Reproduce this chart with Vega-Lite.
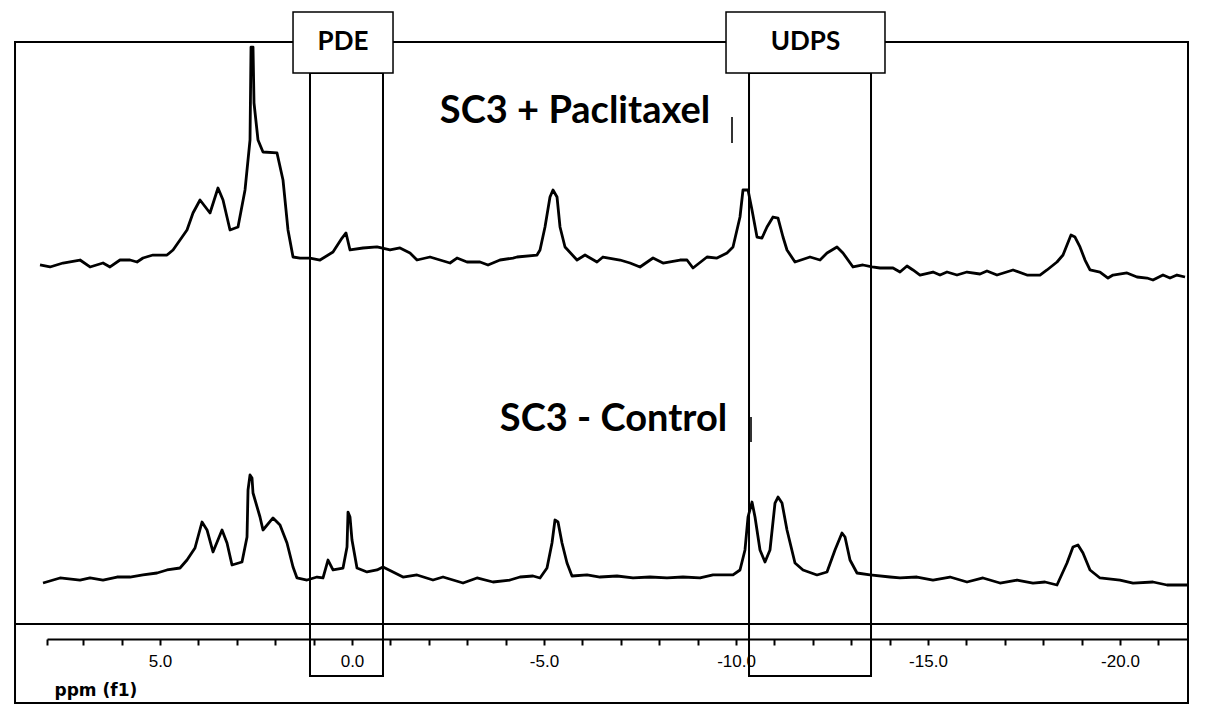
{
  "$schema": "https://vega.github.io/schema/vega-lite/v6.json",
  "width": 1141,
  "height": 639,
  "autosize": {"type": "none"},
  "padding": {"left": 47, "right": 17, "top": 0, "bottom": 80},
  "background": "white",
  "config": {"view": {"stroke": null}},
  "datasets": {
    "spectra": [
      {"sample": "SC3 + Paclitaxel", "ppm": 8.125, "v": 58.53},
      {"sample": "SC3 + Paclitaxel", "ppm": 7.865, "v": 58.22},
      {"sample": "SC3 + Paclitaxel", "ppm": 7.526, "v": 58.84},
      {"sample": "SC3 + Paclitaxel", "ppm": 7.083, "v": 59.31},
      {"sample": "SC3 + Paclitaxel", "ppm": 6.823, "v": 58.22},
      {"sample": "SC3 + Paclitaxel", "ppm": 6.484, "v": 58.84},
      {"sample": "SC3 + Paclitaxel", "ppm": 6.302, "v": 58.22},
      {"sample": "SC3 + Paclitaxel", "ppm": 6.042, "v": 59.31},
      {"sample": "SC3 + Paclitaxel", "ppm": 5.781, "v": 59.31},
      {"sample": "SC3 + Paclitaxel", "ppm": 5.599, "v": 59.0},
      {"sample": "SC3 + Paclitaxel", "ppm": 5.443, "v": 59.62},
      {"sample": "SC3 + Paclitaxel", "ppm": 5.182, "v": 60.09},
      {"sample": "SC3 + Paclitaxel", "ppm": 4.818, "v": 60.09},
      {"sample": "SC3 + Paclitaxel", "ppm": 4.661, "v": 60.88},
      {"sample": "SC3 + Paclitaxel", "ppm": 4.479, "v": 62.44},
      {"sample": "SC3 + Paclitaxel", "ppm": 4.297, "v": 64.01},
      {"sample": "SC3 + Paclitaxel", "ppm": 4.141, "v": 66.67},
      {"sample": "SC3 + Paclitaxel", "ppm": 3.958, "v": 68.7},
      {"sample": "SC3 + Paclitaxel", "ppm": 3.698, "v": 66.67},
      {"sample": "SC3 + Paclitaxel", "ppm": 3.49, "v": 70.58},
      {"sample": "SC3 + Paclitaxel", "ppm": 3.359, "v": 68.7},
      {"sample": "SC3 + Paclitaxel", "ppm": 3.177, "v": 64.01},
      {"sample": "SC3 + Paclitaxel", "ppm": 2.969, "v": 64.48},
      {"sample": "SC3 + Paclitaxel", "ppm": 2.786, "v": 70.27},
      {"sample": "SC3 + Paclitaxel", "ppm": 2.656, "v": 78.09},
      {"sample": "SC3 + Paclitaxel", "ppm": 2.63, "v": 92.64},
      {"sample": "SC3 + Paclitaxel", "ppm": 2.578, "v": 92.64},
      {"sample": "SC3 + Paclitaxel", "ppm": 2.552, "v": 83.88},
      {"sample": "SC3 + Paclitaxel", "ppm": 2.448, "v": 78.09},
      {"sample": "SC3 + Paclitaxel", "ppm": 2.318, "v": 76.21},
      {"sample": "SC3 + Paclitaxel", "ppm": 1.953, "v": 76.06},
      {"sample": "SC3 + Paclitaxel", "ppm": 1.797, "v": 71.83},
      {"sample": "SC3 + Paclitaxel", "ppm": 1.667, "v": 64.01},
      {"sample": "SC3 + Paclitaxel", "ppm": 1.536, "v": 59.78},
      {"sample": "SC3 + Paclitaxel", "ppm": 1.354, "v": 59.62},
      {"sample": "SC3 + Paclitaxel", "ppm": 1.094, "v": 59.62},
      {"sample": "SC3 + Paclitaxel", "ppm": 0.833, "v": 59.31},
      {"sample": "SC3 + Paclitaxel", "ppm": 0.495, "v": 60.56},
      {"sample": "SC3 + Paclitaxel", "ppm": 0.26, "v": 62.75},
      {"sample": "SC3 + Paclitaxel", "ppm": 0.156, "v": 63.54},
      {"sample": "SC3 + Paclitaxel", "ppm": 0.052, "v": 60.88},
      {"sample": "SC3 + Paclitaxel", "ppm": -0.286, "v": 61.19},
      {"sample": "SC3 + Paclitaxel", "ppm": -0.651, "v": 61.35},
      {"sample": "SC3 + Paclitaxel", "ppm": -0.99, "v": 60.88},
      {"sample": "SC3 + Paclitaxel", "ppm": -1.25, "v": 61.19},
      {"sample": "SC3 + Paclitaxel", "ppm": -1.51, "v": 60.41},
      {"sample": "SC3 + Paclitaxel", "ppm": -1.693, "v": 59.31},
      {"sample": "SC3 + Paclitaxel", "ppm": -2.031, "v": 59.78},
      {"sample": "SC3 + Paclitaxel", "ppm": -2.292, "v": 59.31},
      {"sample": "SC3 + Paclitaxel", "ppm": -2.552, "v": 58.84},
      {"sample": "SC3 + Paclitaxel", "ppm": -2.734, "v": 59.62},
      {"sample": "SC3 + Paclitaxel", "ppm": -2.995, "v": 59.0},
      {"sample": "SC3 + Paclitaxel", "ppm": -3.333, "v": 59.0},
      {"sample": "SC3 + Paclitaxel", "ppm": -3.542, "v": 58.53},
      {"sample": "SC3 + Paclitaxel", "ppm": -3.854, "v": 59.31},
      {"sample": "SC3 + Paclitaxel", "ppm": -4.193, "v": 59.62},
      {"sample": "SC3 + Paclitaxel", "ppm": -4.297, "v": 59.78},
      {"sample": "SC3 + Paclitaxel", "ppm": -4.818, "v": 60.09},
      {"sample": "SC3 + Paclitaxel", "ppm": -4.896, "v": 60.88},
      {"sample": "SC3 + Paclitaxel", "ppm": -5.026, "v": 64.48},
      {"sample": "SC3 + Paclitaxel", "ppm": -5.156, "v": 69.17},
      {"sample": "SC3 + Paclitaxel", "ppm": -5.234, "v": 70.27},
      {"sample": "SC3 + Paclitaxel", "ppm": -5.339, "v": 69.17},
      {"sample": "SC3 + Paclitaxel", "ppm": -5.417, "v": 64.48},
      {"sample": "SC3 + Paclitaxel", "ppm": -5.547, "v": 61.35},
      {"sample": "SC3 + Paclitaxel", "ppm": -5.859, "v": 59.31},
      {"sample": "SC3 + Paclitaxel", "ppm": -6.068, "v": 60.09},
      {"sample": "SC3 + Paclitaxel", "ppm": -6.38, "v": 59.0},
      {"sample": "SC3 + Paclitaxel", "ppm": -6.536, "v": 59.78},
      {"sample": "SC3 + Paclitaxel", "ppm": -6.979, "v": 59.31},
      {"sample": "SC3 + Paclitaxel", "ppm": -7.24, "v": 58.84},
      {"sample": "SC3 + Paclitaxel", "ppm": -7.5, "v": 58.22},
      {"sample": "SC3 + Paclitaxel", "ppm": -7.839, "v": 59.62},
      {"sample": "SC3 + Paclitaxel", "ppm": -8.099, "v": 58.84},
      {"sample": "SC3 + Paclitaxel", "ppm": -8.542, "v": 59.31},
      {"sample": "SC3 + Paclitaxel", "ppm": -8.724, "v": 59.31},
      {"sample": "SC3 + Paclitaxel", "ppm": -8.88, "v": 58.06},
      {"sample": "SC3 + Paclitaxel", "ppm": -9.245, "v": 59.78},
      {"sample": "SC3 + Paclitaxel", "ppm": -9.505, "v": 59.62},
      {"sample": "SC3 + Paclitaxel", "ppm": -9.766, "v": 60.41},
      {"sample": "SC3 + Paclitaxel", "ppm": -9.922, "v": 61.35},
      {"sample": "SC3 + Paclitaxel", "ppm": -10.104, "v": 66.04},
      {"sample": "SC3 + Paclitaxel", "ppm": -10.182, "v": 70.27},
      {"sample": "SC3 + Paclitaxel", "ppm": -10.313, "v": 70.27},
      {"sample": "SC3 + Paclitaxel", "ppm": -10.417, "v": 67.14},
      {"sample": "SC3 + Paclitaxel", "ppm": -10.547, "v": 62.91},
      {"sample": "SC3 + Paclitaxel", "ppm": -10.677, "v": 62.75},
      {"sample": "SC3 + Paclitaxel", "ppm": -10.807, "v": 64.48},
      {"sample": "SC3 + Paclitaxel", "ppm": -10.964, "v": 66.04},
      {"sample": "SC3 + Paclitaxel", "ppm": -11.094, "v": 65.88},
      {"sample": "SC3 + Paclitaxel", "ppm": -11.224, "v": 62.91},
      {"sample": "SC3 + Paclitaxel", "ppm": -11.328, "v": 60.88},
      {"sample": "SC3 + Paclitaxel", "ppm": -11.536, "v": 59.0},
      {"sample": "SC3 + Paclitaxel", "ppm": -11.927, "v": 59.78},
      {"sample": "SC3 + Paclitaxel", "ppm": -12.188, "v": 59.31},
      {"sample": "SC3 + Paclitaxel", "ppm": -12.37, "v": 60.41},
      {"sample": "SC3 + Paclitaxel", "ppm": -12.63, "v": 61.35},
      {"sample": "SC3 + Paclitaxel", "ppm": -12.786, "v": 60.41},
      {"sample": "SC3 + Paclitaxel", "ppm": -13.047, "v": 58.22},
      {"sample": "SC3 + Paclitaxel", "ppm": -13.307, "v": 58.53},
      {"sample": "SC3 + Paclitaxel", "ppm": -13.542, "v": 58.22},
      {"sample": "SC3 + Paclitaxel", "ppm": -13.75, "v": 58.06},
      {"sample": "SC3 + Paclitaxel", "ppm": -14.089, "v": 58.06},
      {"sample": "SC3 + Paclitaxel", "ppm": -14.271, "v": 57.43},
      {"sample": "SC3 + Paclitaxel", "ppm": -14.453, "v": 58.37},
      {"sample": "SC3 + Paclitaxel", "ppm": -14.609, "v": 57.75},
      {"sample": "SC3 + Paclitaxel", "ppm": -14.792, "v": 56.96},
      {"sample": "SC3 + Paclitaxel", "ppm": -15.13, "v": 57.43},
      {"sample": "SC3 + Paclitaxel", "ppm": -15.313, "v": 56.96},
      {"sample": "SC3 + Paclitaxel", "ppm": -15.495, "v": 57.43},
      {"sample": "SC3 + Paclitaxel", "ppm": -15.755, "v": 56.96},
      {"sample": "SC3 + Paclitaxel", "ppm": -16.016, "v": 57.43},
      {"sample": "SC3 + Paclitaxel", "ppm": -16.354, "v": 57.12},
      {"sample": "SC3 + Paclitaxel", "ppm": -16.536, "v": 57.59},
      {"sample": "SC3 + Paclitaxel", "ppm": -16.797, "v": 56.96},
      {"sample": "SC3 + Paclitaxel", "ppm": -17.214, "v": 57.75},
      {"sample": "SC3 + Paclitaxel", "ppm": -17.578, "v": 56.96},
      {"sample": "SC3 + Paclitaxel", "ppm": -17.917, "v": 56.96},
      {"sample": "SC3 + Paclitaxel", "ppm": -18.099, "v": 57.75},
      {"sample": "SC3 + Paclitaxel", "ppm": -18.359, "v": 59.0},
      {"sample": "SC3 + Paclitaxel", "ppm": -18.516, "v": 60.09},
      {"sample": "SC3 + Paclitaxel", "ppm": -18.62, "v": 61.66},
      {"sample": "SC3 + Paclitaxel", "ppm": -18.724, "v": 63.22},
      {"sample": "SC3 + Paclitaxel", "ppm": -18.828, "v": 62.91},
      {"sample": "SC3 + Paclitaxel", "ppm": -18.958, "v": 61.35},
      {"sample": "SC3 + Paclitaxel", "ppm": -19.089, "v": 59.31},
      {"sample": "SC3 + Paclitaxel", "ppm": -19.219, "v": 57.75},
      {"sample": "SC3 + Paclitaxel", "ppm": -19.479, "v": 57.43},
      {"sample": "SC3 + Paclitaxel", "ppm": -19.688, "v": 56.49},
      {"sample": "SC3 + Paclitaxel", "ppm": -19.818, "v": 56.96},
      {"sample": "SC3 + Paclitaxel", "ppm": -20.182, "v": 57.28},
      {"sample": "SC3 + Paclitaxel", "ppm": -20.443, "v": 56.65},
      {"sample": "SC3 + Paclitaxel", "ppm": -20.703, "v": 56.49},
      {"sample": "SC3 + Paclitaxel", "ppm": -20.859, "v": 56.18},
      {"sample": "SC3 + Paclitaxel", "ppm": -21.12, "v": 56.96},
      {"sample": "SC3 + Paclitaxel", "ppm": -21.302, "v": 56.49},
      {"sample": "SC3 + Paclitaxel", "ppm": -21.484, "v": 56.96},
      {"sample": "SC3 + Paclitaxel", "ppm": -21.693, "v": 56.65},

      {"sample": "SC3 - Control", "ppm": 8.047, "v": 8.76},
      {"sample": "SC3 - Control", "ppm": 7.604, "v": 9.55},
      {"sample": "SC3 - Control", "ppm": 7.083, "v": 9.23},
      {"sample": "SC3 - Control", "ppm": 6.823, "v": 9.55},
      {"sample": "SC3 - Control", "ppm": 6.484, "v": 9.23},
      {"sample": "SC3 - Control", "ppm": 6.12, "v": 9.7},
      {"sample": "SC3 - Control", "ppm": 5.781, "v": 9.7},
      {"sample": "SC3 - Control", "ppm": 5.443, "v": 10.02},
      {"sample": "SC3 - Control", "ppm": 5.078, "v": 10.33},
      {"sample": "SC3 - Control", "ppm": 4.818, "v": 10.8},
      {"sample": "SC3 - Control", "ppm": 4.479, "v": 11.11},
      {"sample": "SC3 - Control", "ppm": 4.297, "v": 12.36},
      {"sample": "SC3 - Control", "ppm": 4.089, "v": 14.24},
      {"sample": "SC3 - Control", "ppm": 3.906, "v": 18.31},
      {"sample": "SC3 - Control", "ppm": 3.776, "v": 17.06},
      {"sample": "SC3 - Control", "ppm": 3.62, "v": 13.62},
      {"sample": "SC3 - Control", "ppm": 3.385, "v": 17.06},
      {"sample": "SC3 - Control", "ppm": 3.255, "v": 15.02},
      {"sample": "SC3 - Control", "ppm": 3.125, "v": 11.58},
      {"sample": "SC3 - Control", "ppm": 2.865, "v": 12.05},
      {"sample": "SC3 - Control", "ppm": 2.734, "v": 15.96},
      {"sample": "SC3 - Control", "ppm": 2.708, "v": 23.32},
      {"sample": "SC3 - Control", "ppm": 2.656, "v": 25.67},
      {"sample": "SC3 - Control", "ppm": 2.604, "v": 25.2},
      {"sample": "SC3 - Control", "ppm": 2.578, "v": 22.85},
      {"sample": "SC3 - Control", "ppm": 2.396, "v": 19.09},
      {"sample": "SC3 - Control", "ppm": 2.318, "v": 17.06},
      {"sample": "SC3 - Control", "ppm": 2.057, "v": 18.94},
      {"sample": "SC3 - Control", "ppm": 1.875, "v": 17.84},
      {"sample": "SC3 - Control", "ppm": 1.693, "v": 15.02},
      {"sample": "SC3 - Control", "ppm": 1.536, "v": 11.27},
      {"sample": "SC3 - Control", "ppm": 1.432, "v": 9.55},
      {"sample": "SC3 - Control", "ppm": 1.172, "v": 9.23},
      {"sample": "SC3 - Control", "ppm": 0.911, "v": 9.7},
      {"sample": "SC3 - Control", "ppm": 0.755, "v": 9.55},
      {"sample": "SC3 - Control", "ppm": 0.625, "v": 12.36},
      {"sample": "SC3 - Control", "ppm": 0.495, "v": 10.8},
      {"sample": "SC3 - Control", "ppm": 0.234, "v": 11.11},
      {"sample": "SC3 - Control", "ppm": 0.13, "v": 14.4},
      {"sample": "SC3 - Control", "ppm": 0.104, "v": 19.87},
      {"sample": "SC3 - Control", "ppm": 0.052, "v": 19.09},
      {"sample": "SC3 - Control", "ppm": 0.0, "v": 15.49},
      {"sample": "SC3 - Control", "ppm": -0.13, "v": 11.11},
      {"sample": "SC3 - Control", "ppm": -0.391, "v": 10.49},
      {"sample": "SC3 - Control", "ppm": -0.651, "v": 10.8},
      {"sample": "SC3 - Control", "ppm": -0.807, "v": 11.27},
      {"sample": "SC3 - Control", "ppm": -1.068, "v": 10.49},
      {"sample": "SC3 - Control", "ppm": -1.328, "v": 9.7},
      {"sample": "SC3 - Control", "ppm": -1.693, "v": 10.02},
      {"sample": "SC3 - Control", "ppm": -2.109, "v": 9.23},
      {"sample": "SC3 - Control", "ppm": -2.37, "v": 9.7},
      {"sample": "SC3 - Control", "ppm": -2.891, "v": 8.76},
      {"sample": "SC3 - Control", "ppm": -3.255, "v": 9.55},
      {"sample": "SC3 - Control", "ppm": -3.672, "v": 8.92},
      {"sample": "SC3 - Control", "ppm": -4.115, "v": 9.23},
      {"sample": "SC3 - Control", "ppm": -4.375, "v": 9.7},
      {"sample": "SC3 - Control", "ppm": -4.714, "v": 9.86},
      {"sample": "SC3 - Control", "ppm": -4.896, "v": 9.55},
      {"sample": "SC3 - Control", "ppm": -5.078, "v": 11.11},
      {"sample": "SC3 - Control", "ppm": -5.208, "v": 15.02},
      {"sample": "SC3 - Control", "ppm": -5.286, "v": 18.62},
      {"sample": "SC3 - Control", "ppm": -5.365, "v": 18.31},
      {"sample": "SC3 - Control", "ppm": -5.469, "v": 15.02},
      {"sample": "SC3 - Control", "ppm": -5.599, "v": 11.89},
      {"sample": "SC3 - Control", "ppm": -5.729, "v": 9.86},
      {"sample": "SC3 - Control", "ppm": -6.12, "v": 10.02},
      {"sample": "SC3 - Control", "ppm": -6.458, "v": 9.7},
      {"sample": "SC3 - Control", "ppm": -6.901, "v": 9.86},
      {"sample": "SC3 - Control", "ppm": -7.318, "v": 9.55},
      {"sample": "SC3 - Control", "ppm": -7.76, "v": 9.7},
      {"sample": "SC3 - Control", "ppm": -8.203, "v": 9.55},
      {"sample": "SC3 - Control", "ppm": -8.62, "v": 9.7},
      {"sample": "SC3 - Control", "ppm": -9.063, "v": 9.55},
      {"sample": "SC3 - Control", "ppm": -9.401, "v": 10.02},
      {"sample": "SC3 - Control", "ppm": -9.922, "v": 10.02},
      {"sample": "SC3 - Control", "ppm": -10.104, "v": 10.8},
      {"sample": "SC3 - Control", "ppm": -10.234, "v": 13.93},
      {"sample": "SC3 - Control", "ppm": -10.313, "v": 19.09},
      {"sample": "SC3 - Control", "ppm": -10.417, "v": 21.44},
      {"sample": "SC3 - Control", "ppm": -10.495, "v": 19.09},
      {"sample": "SC3 - Control", "ppm": -10.625, "v": 13.93},
      {"sample": "SC3 - Control", "ppm": -10.755, "v": 12.05},
      {"sample": "SC3 - Control", "ppm": -10.885, "v": 13.93},
      {"sample": "SC3 - Control", "ppm": -11.016, "v": 21.28},
      {"sample": "SC3 - Control", "ppm": -11.094, "v": 22.22},
      {"sample": "SC3 - Control", "ppm": -11.198, "v": 21.28},
      {"sample": "SC3 - Control", "ppm": -11.328, "v": 17.06},
      {"sample": "SC3 - Control", "ppm": -11.536, "v": 11.89},
      {"sample": "SC3 - Control", "ppm": -11.745, "v": 10.8},
      {"sample": "SC3 - Control", "ppm": -12.109, "v": 10.02},
      {"sample": "SC3 - Control", "ppm": -12.37, "v": 10.49},
      {"sample": "SC3 - Control", "ppm": -12.578, "v": 13.93},
      {"sample": "SC3 - Control", "ppm": -12.76, "v": 16.59},
      {"sample": "SC3 - Control", "ppm": -12.839, "v": 15.96},
      {"sample": "SC3 - Control", "ppm": -12.969, "v": 12.36},
      {"sample": "SC3 - Control", "ppm": -13.151, "v": 10.33},
      {"sample": "SC3 - Control", "ppm": -13.49, "v": 10.02},
      {"sample": "SC3 - Control", "ppm": -14.01, "v": 9.7},
      {"sample": "SC3 - Control", "ppm": -14.271, "v": 9.55},
      {"sample": "SC3 - Control", "ppm": -14.714, "v": 9.7},
      {"sample": "SC3 - Control", "ppm": -15.13, "v": 9.23},
      {"sample": "SC3 - Control", "ppm": -15.573, "v": 9.7},
      {"sample": "SC3 - Control", "ppm": -16.016, "v": 8.92},
      {"sample": "SC3 - Control", "ppm": -16.432, "v": 9.55},
      {"sample": "SC3 - Control", "ppm": -16.875, "v": 8.76},
      {"sample": "SC3 - Control", "ppm": -17.318, "v": 9.23},
      {"sample": "SC3 - Control", "ppm": -17.734, "v": 8.76},
      {"sample": "SC3 - Control", "ppm": -18.047, "v": 8.92},
      {"sample": "SC3 - Control", "ppm": -18.359, "v": 8.45},
      {"sample": "SC3 - Control", "ppm": -18.62, "v": 11.89},
      {"sample": "SC3 - Control", "ppm": -18.776, "v": 14.4},
      {"sample": "SC3 - Control", "ppm": -18.906, "v": 14.71},
      {"sample": "SC3 - Control", "ppm": -19.036, "v": 13.46},
      {"sample": "SC3 - Control", "ppm": -19.219, "v": 10.8},
      {"sample": "SC3 - Control", "ppm": -19.479, "v": 9.55},
      {"sample": "SC3 - Control", "ppm": -20.0, "v": 9.23},
      {"sample": "SC3 - Control", "ppm": -20.339, "v": 8.76},
      {"sample": "SC3 - Control", "ppm": -20.859, "v": 8.92},
      {"sample": "SC3 - Control", "ppm": -21.224, "v": 8.45},
      {"sample": "SC3 - Control", "ppm": -21.745, "v": 8.45}
    ],
    "frames": [
      {"name": "frame", "ppm": 8.776, "ppm2": -21.771, "v": 93.43, "v2": -10.02},
      {"name": "PDE window", "ppm": 1.094, "ppm2": -0.807, "v": 88.58, "v2": -5.79},
      {"name": "UDPS window", "ppm": -10.339, "ppm2": -13.516, "v": 88.58, "v2": -5.79}
    ],
    "divider": [
      {"ppm": 8.776, "ppm2": -21.771, "v": 2.35}
    ],
    "tags": [
      {"label": "PDE", "ppm": 1.536, "ppm2": -1.068, "v": 98.12, "v2": 88.58},
      {"label": "UDPS", "ppm": -9.74, "ppm2": -13.88, "v": 98.12, "v2": 88.58}
    ],
    "tagText": [
      {"label": "PDE", "ppm": 0.234, "v": 93.43},
      {"label": "UDPS", "ppm": -11.81, "v": 93.43}
    ],
    "sampleText": [
      {"label": "SC3 + Paclitaxel", "ppm": -5.807, "v": 82.47},
      {"label": "SC3 - Control", "ppm": -6.81, "v": 34.27}
    ],
    "marks": [
      {"ppm": -9.896, "v": 81.69, "v2": 77.62},
      {"ppm": -10.391, "v": 34.74, "v2": 30.83}
    ],
    "major": [
      {"ppm": 5}, {"ppm": 0}, {"ppm": -5}, {"ppm": -10}, {"ppm": -15}, {"ppm": -20}
    ]
  },
  "encoding": {
    "x": {
      "field": "ppm",
      "type": "quantitative",
      "scale": {"domain": [7.943, -21.771], "nice": false, "zero": false},
      "axis": {
        "title": "ppm (f1)",
        "values": [7.94, 7, 6, 5, 4, 3, 2, 1, 0, -1, -2, -3, -4, -5, -6, -7, -8, -9, -10, -11, -12, -13, -14, -15, -16, -17, -18, -19, -20, -21],
        "grid": false,
        "domainColor": "black",
        "domainWidth": 2,
        "tickColor": "black",
        "tickWidth": 2,
        "tickSize": 6,
        "labelExpr": "datum.value % 5 === 0 ? (datum.value < 0 ? '-' : '') + format(abs(datum.value), '.1f') : ''",
        "labelOverlap": false,
        "labelFlush": false,
        "labelFont": "Liberation Sans",
        "labelFontSize": 17,
        "labelColor": "black",
        "labelPadding": 8,
        "titleFont": "DejaVu Sans",
        "titleFontWeight": "bold",
        "titleFontSize": 17,
        "titleColor": "black",
        "titleAnchor": "start",
        "titleAlign": "left",
        "titleBaseline": "middle",
        "titleX": 7,
        "titleY": 51
      }
    },
    "y": {
      "field": "v",
      "type": "quantitative",
      "scale": {"domain": [0, 100], "nice": false, "zero": false},
      "axis": null
    }
  },
  "layer": [
    {
      "data": {"name": "frames"},
      "mark": {"type": "rect", "fill": "white", "fillOpacity": 0, "stroke": "black", "strokeWidth": 2},
      "encoding": {"x2": {"field": "ppm2"}, "y2": {"field": "v2"}}
    },
    {
      "data": {"name": "divider"},
      "mark": {"type": "rule", "color": "black", "strokeWidth": 2},
      "encoding": {"x2": {"field": "ppm2"}}
    },
    {
      "data": {"name": "major"},
      "mark": {"type": "rule", "color": "black", "strokeWidth": 2},
      "encoding": {"y": {"datum": 0}, "y2": {"datum": -2.03}}
    },
    {
      "data": {"name": "spectra"},
      "mark": {"type": "line", "color": "black", "strokeWidth": 2.8, "strokeJoin": "round"},
      "encoding": {"detail": {"field": "sample"}}
    },
    {
      "data": {"name": "marks"},
      "mark": {"type": "rule", "color": "#333333", "strokeWidth": 2},
      "encoding": {"y2": {"field": "v2"}}
    },
    {
      "data": {"name": "tags"},
      "mark": {"type": "rect", "fill": "white", "stroke": "black", "strokeWidth": 1.5},
      "encoding": {"x2": {"field": "ppm2"}, "y2": {"field": "v2"}}
    },
    {
      "data": {"name": "tagText"},
      "mark": {"type": "text", "font": "Lato", "fontWeight": "bold", "fontSize": 26, "color": "black", "align": "center", "baseline": "middle"},
      "encoding": {"text": {"field": "label"}}
    },
    {
      "data": {"name": "sampleText"},
      "mark": {"type": "text", "font": "Lato", "fontWeight": "bold", "fontSize": 38, "color": "black", "align": "center", "baseline": "middle"},
      "encoding": {"text": {"field": "label"}}
    }
  ]
}
